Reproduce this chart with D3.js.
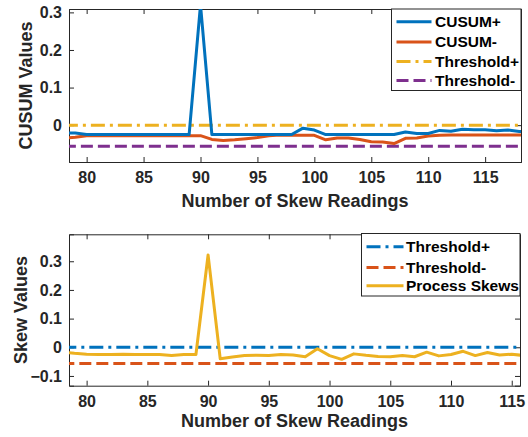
<!DOCTYPE html>
<html><head><meta charset="utf-8">
<script src="https://cdn.jsdelivr.net/npm/d3@7"></script>
<style>
html,body{margin:0;padding:0;background:#fff;}
svg{display:block;font-family:"Liberation Sans",Arial,Helvetica,sans-serif;font-weight:bold;}
</style></head>
<body>
<svg id="c" width="528" height="437"></svg>
<script>
// ---- data ----
const xTop = d3.range(78, 120);
const cusumPlus = [-0.021,-0.021,-0.025,-0.025,-0.025,-0.025,-0.025,-0.025,-0.025,-0.025,-0.025,-0.025,0.32,-0.025,-0.025,-0.025,-0.025,-0.025,-0.025,-0.025,-0.025,-0.008,-0.013,-0.025,-0.025,-0.025,-0.025,-0.025,-0.025,-0.025,-0.018,-0.022,-0.022,-0.014,-0.016,-0.011,-0.012,-0.012,-0.015,-0.013,-0.017,-0.018];
const cusumMinus = [-0.035,-0.032,-0.028,-0.028,-0.028,-0.028,-0.028,-0.028,-0.028,-0.028,-0.028,-0.028,-0.028,-0.038,-0.041,-0.039,-0.036,-0.033,-0.028,-0.026,-0.027,-0.027,-0.027,-0.039,-0.034,-0.034,-0.038,-0.044,-0.045,-0.049,-0.035,-0.034,-0.029,-0.027,-0.026,-0.026,-0.026,-0.026,-0.026,-0.026,-0.026,-0.026];
const topThreshPlus = 0;
const topThreshMinus = -0.056;
const topXTicks = [80, 85, 90, 95, 100, 105, 110, 115];
const topYTicks = [0, 0.1, 0.2, 0.3];
const topSeriesNames = ["CUSUM+", "CUSUM-", "Threshold+", "Threshold-"];

const xBottom = d3.range(78, 117);
const processSkews = [-0.017,-0.021,-0.024,-0.025,-0.025,-0.024,-0.025,-0.025,-0.025,-0.029,-0.025,-0.025,0.322,-0.040,-0.034,-0.029,-0.028,-0.029,-0.025,-0.027,-0.033,-0.005,-0.029,-0.042,-0.023,-0.028,-0.032,-0.033,-0.029,-0.033,-0.017,-0.030,-0.025,-0.014,-0.029,-0.018,-0.027,-0.024,-0.029];
const botThreshPlus = 0;
const botThreshMinus = -0.057;
const botXTicks = [80, 85, 90, 95, 100, 105, 110, 115];
const botYTicks = [-0.1, 0, 0.1, 0.2, 0.3];
const botSeriesNames = ["Threshold+", "Threshold-", "Process Skews"];

// ---- styles ----
const C_BLUE = "#0072BD", C_ORANGE = "#D95319", C_YELLOW = "#EDB120", C_PURPLE = "#7E2F8E";
const AX = "#262626";
const DASHDOT = "14,5,3,5", DASH = "12,5";

const svg = d3.select("#c");

function panel(opt) {
  const {id, L, R, T, B, xdom, ydom, xticks, yticks, ylabel, lines, legend} = opt;
  const x = d3.scaleLinear().domain(xdom).range([L, R]);
  const y = d3.scaleLinear().domain(ydom).range([B, T]);
  const g = svg.append("g");
  g.append("clipPath").attr("id", id).append("rect")
    .attr("x", L).attr("y", T).attr("width", R - L).attr("height", B - T);
  const fmt = d => d === 0 ? "0" : d3.format("")(+d.toFixed(1));
  const tick = 5;
  // axes
  const xa = d3.axisBottom(x).tickValues(xticks).tickSize(-tick).tickPadding(10).tickFormat(d3.format("d"));
  const xat = d3.axisTop(x).tickValues(xticks).tickSize(-tick).tickFormat("");
  const ya = d3.axisLeft(y).tickValues(yticks).tickSize(-tick).tickPadding(7).tickFormat(fmt);
  const yar = d3.axisRight(y).tickValues(yticks).tickSize(-tick).tickFormat("");
  const style = sel => {
    sel.selectAll("path").attr("stroke", AX).attr("stroke-width", 1);
    sel.selectAll("line").attr("stroke", AX).attr("stroke-width", 1);
    sel.selectAll("text").attr("fill", AX).attr("font-size", 16).attr("font-weight", "bold")
      .attr("font-family", "'Liberation Sans',Arial,sans-serif");
  };
  g.append("g").attr("transform", `translate(0,${B})`).call(xa).call(style);
  g.append("g").attr("transform", `translate(0,${T})`).call(xat).call(style);
  g.append("g").attr("transform", `translate(${L},0)`).call(ya).call(style);
  g.append("g").attr("transform", `translate(${R},0)`).call(yar).call(style);
  g.selectAll(".domain").attr("fill", "none");
  // data
  const pg = g.append("g").attr("clip-path", `url(#${id})`);
  lines.forEach(s => {
    const line = d3.line().x((d, i) => x(s.xs[i])).y(d => y(d));
    pg.append("path").datum(s.ys).attr("d", line).attr("fill", "none")
      .attr("stroke", s.color).attr("stroke-width", 3).attr("stroke-linejoin", "round")
      .attr("stroke-dasharray", s.dash || null);
  });
  // labels
  g.append("text").attr("x", (L + R) / 2).attr("y", opt.xlabY).attr("text-anchor", "middle")
    .attr("font-size", 18).attr("fill", AX).text("Number of Skew Readings");
  g.append("text").attr("transform", `translate(${opt.ylabX},${(T + B) / 2}) rotate(-90)`)
    .attr("text-anchor", "middle").attr("font-size", 18).attr("fill", AX).text(ylabel);
  // legend
  const lg = g.append("g");
  lg.append("rect").attr("x", legend.x0).attr("y", legend.y0).attr("width", legend.x1 - legend.x0)
    .attr("height", legend.y1 - legend.y0).attr("fill", "#fff").attr("stroke", AX).attr("stroke-width", 1);
  legend.items.forEach((it, i) => {
    const yy = legend.ys[i];
    lg.append("line").attr("x1", legend.lx0).attr("x2", legend.lx1).attr("y1", yy).attr("y2", yy)
      .attr("stroke", it.color).attr("stroke-width", 3).attr("stroke-dasharray", it.dash || null);
    lg.append("text").attr("x", legend.tx).attr("y", yy).attr("dy", "0.35em")
      .attr("font-size", 15.5).attr("fill", "#000").text(it.name);
  });
}

panel({
  id: "clipTop", L: 69, R: 521, T: 9, B: 162,
  xdom: [78.45, 118.15], ydom: [-0.098, 0.309],
  xticks: topXTicks, yticks: topYTicks, ylabel: "CUSUM Values", xlabY: 207, ylabX: 32,
  lines: [
    {xs: xTop, ys: xTop.map(() => topThreshPlus), color: C_YELLOW, dash: DASHDOT},
    {xs: xTop, ys: xTop.map(() => topThreshMinus), color: C_PURPLE, dash: DASH},
    {xs: xTop, ys: cusumMinus, color: C_ORANGE},
    {xs: xTop, ys: cusumPlus, color: C_BLUE}
  ],
  legend: {x0: 391.5, x1: 521, y0: 9, y1: 90.5, lx0: 396.5, lx1: 431.5, tx: 435,
    ys: [21.7, 42, 61.5, 80.5],
    items: [
      {name: topSeriesNames[0], color: C_BLUE},
      {name: topSeriesNames[1], color: C_ORANGE},
      {name: topSeriesNames[2], color: C_YELLOW, dash: DASHDOT},
      {name: topSeriesNames[3], color: C_PURPLE, dash: DASH}
    ]}
});

panel({
  id: "clipBot", L: 69, R: 520, T: 234.3, B: 385.7,
  xdom: [78.55, 115.68], ydom: [-0.134, 0.394],
  xticks: botXTicks, yticks: botYTicks, ylabel: "Skew Values", xlabY: 427, ylabX: 27,
  lines: [
    {xs: xBottom, ys: xBottom.map(() => botThreshPlus), color: C_BLUE, dash: DASHDOT},
    {xs: xBottom, ys: xBottom.map(() => botThreshMinus), color: C_ORANGE, dash: DASH},
    {xs: xBottom, ys: processSkews, color: C_YELLOW}
  ],
  legend: {x0: 361.5, x1: 520, y0: 233.5, y1: 296, lx0: 366.5, lx1: 403.5, tx: 406,
    ys: [246.7, 267.5, 285.7],
    items: [
      {name: botSeriesNames[0], color: C_BLUE, dash: DASHDOT},
      {name: botSeriesNames[1], color: C_ORANGE, dash: DASH},
      {name: botSeriesNames[2], color: C_YELLOW}
    ]}
});
</script>
</body></html>
